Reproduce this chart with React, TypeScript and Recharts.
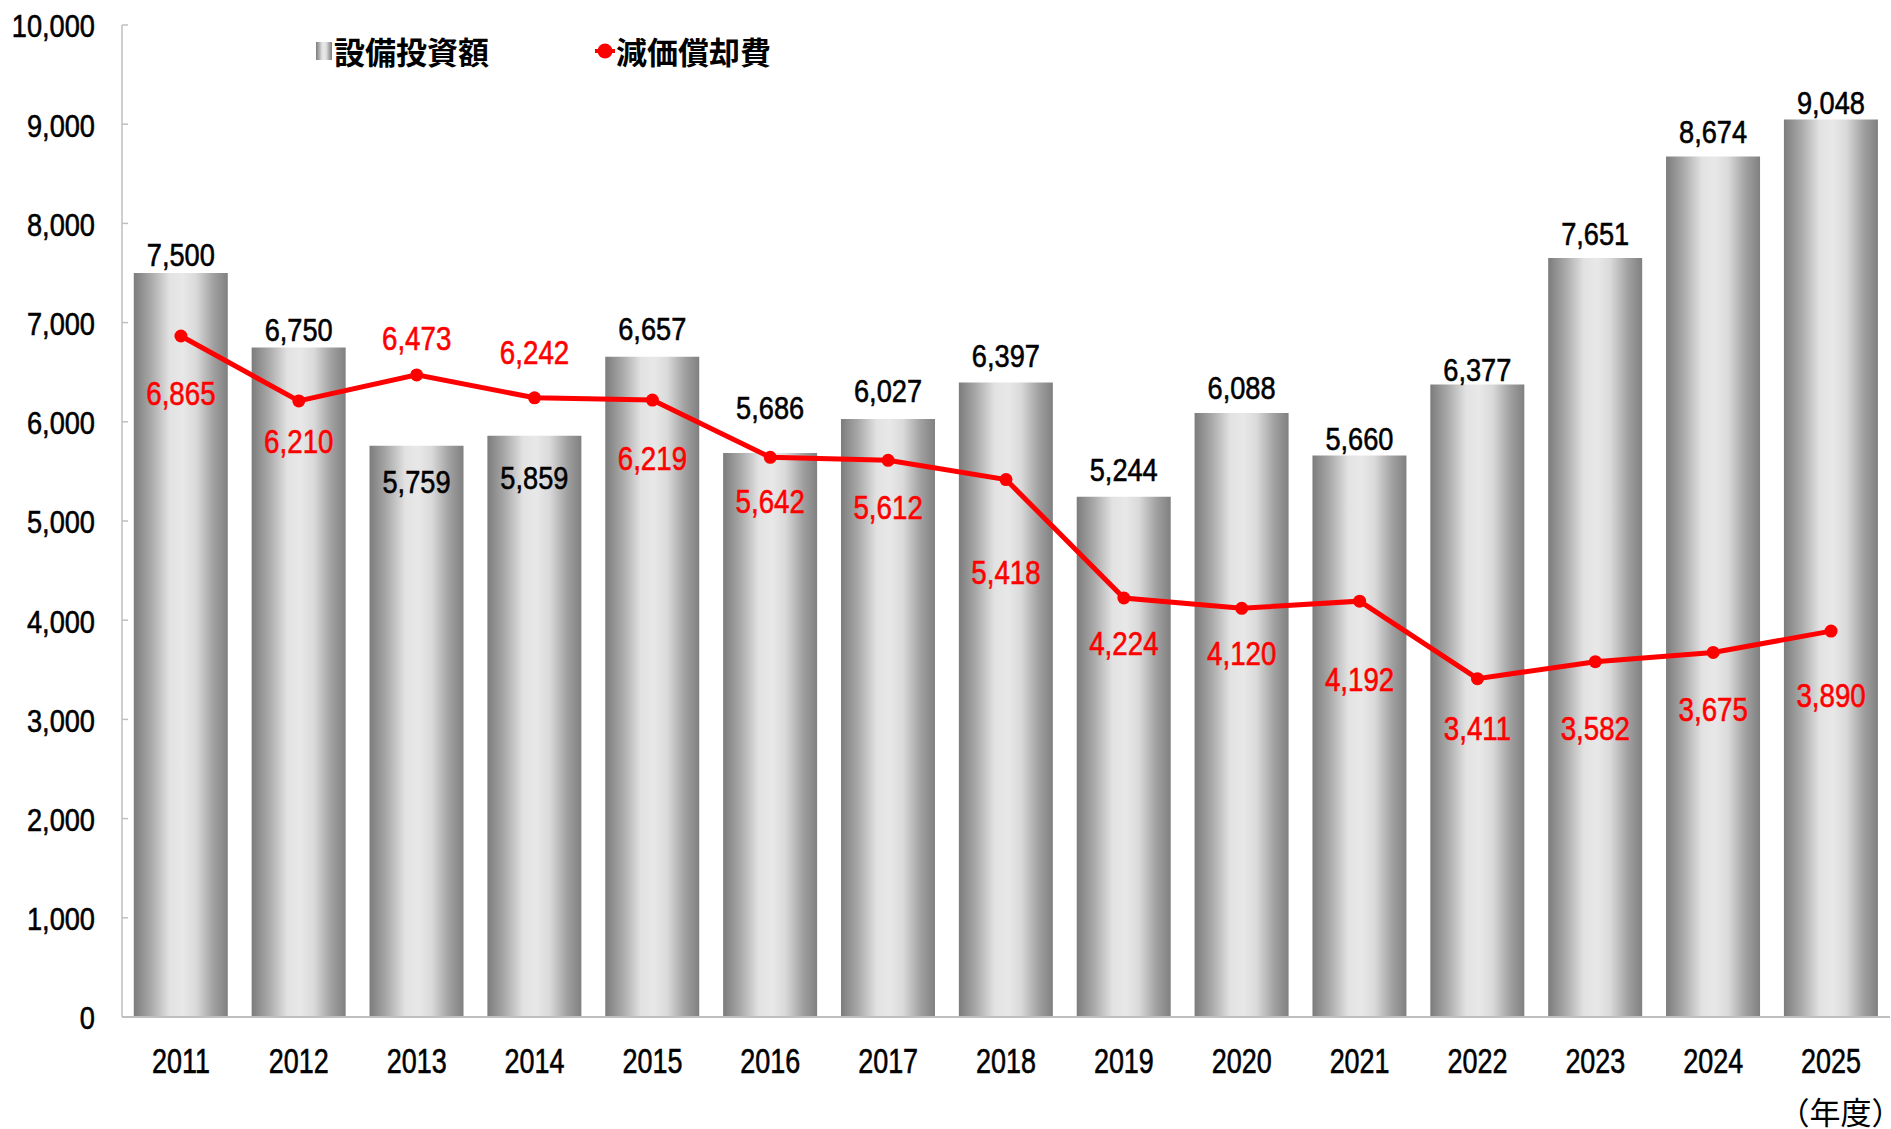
import { ComposedChart, Bar, Line, XAxis, YAxis, LabelList } from "recharts";

const years = [
  "2011", "2012", "2013", "2014", "2015", "2016", "2017", "2018",
  "2019", "2020", "2021", "2022", "2023", "2024", "2025",
];
const capex = [
  7500, 6750, 5759, 5859, 6657, 5686, 6027, 6397, 5244, 6088, 5660, 6377, 7651,
  8674, 9048,
];
const depreciation = [
  6865, 6210, 6473, 6242, 6219, 5642, 5612, 5418, 4224, 4120, 4192, 3411, 3582,
  3675, 3890,
];
const yTicks = [0, 1000, 2000, 3000, 4000, 5000, 6000, 7000, 8000, 9000, 10000];

// hand-placed label offsets (px from bar top / line point), as in the original
const capexLabelDy = [-18, -18, 36, 42, -28, -45, -28, -27, -27, -25, -17, -15, -24, -25, -17];
const depLabelDy = [57, 40, -37, -46, 58, 44, 47, 93, 45, 45, 78, 49, 66, 57, 64];

const NUM_FONT = '"Liberation Sans", Arial, sans-serif';
const JP_FONT = '"Noto Sans CJK JP", "Noto Sans", sans-serif';
const AXIS_GREY = "#bfbfbf";

const fmt = (v: number) => v.toLocaleString("en-US");

const chartData = years.map((year, i) => ({
  year,
  capex: capex[i],
  depreciation: depreciation[i],
}));

// the original uses a condensed gothic face, so squeeze a normal one
function NarrowText({
  x,
  y,
  size,
  sx,
  anchor = "middle",
  fill = "#000",
  children,
}: {
  x: number;
  y: number;
  size: number;
  sx: number;
  anchor?: "start" | "middle" | "end";
  fill?: string;
  children: any;
}) {
  return (
    <text
      transform={`translate(${x},${y}) scale(${sx},1)`}
      x={0}
      y={0}
      textAnchor={anchor}
      dominantBaseline="central"
      fontFamily={NUM_FONT}
      fontSize={size}
      fill={fill}
      stroke={fill}
      strokeWidth={0.6}
    >
      {children}
    </text>
  );
}

const YTick = (props: any) => {
  const { x, y, payload } = props;
  return (
    <g>
      <line x1={x + 26} x2={x + 32} y1={y} y2={y} stroke={AXIS_GREY} strokeWidth={1.5} />
      <NarrowText x={x - 1} y={y + 1} size={32} sx={0.85} anchor="end">
        {fmt(payload.value)}
      </NarrowText>
    </g>
  );
};

const XTick = (props: any) => {
  const { x, y, payload } = props;
  return (
    <NarrowText x={x} y={y + 44} size={35} sx={0.77}>
      {payload.value}
    </NarrowText>
  );
};

const CapexLabel = (props: any) => {
  const vb = props.viewBox ?? props;
  const i = props.index ?? 0;
  return (
    <NarrowText x={vb.x + vb.width / 2} y={vb.y + capexLabelDy[i]} size={32} sx={0.85}>
      {fmt(capex[i])}
    </NarrowText>
  );
};

const DepLabel = (props: any) => {
  const vb = props.viewBox ?? props;
  const i = props.index ?? 0;
  return (
    <NarrowText x={vb.x} y={vb.y + depLabelDy[i]} size={33} sx={0.84} fill="#ff0000">
      {fmt(depreciation[i])}
    </NarrowText>
  );
};

function LegendBox() {
  const text = { lineHeight: "36px", fontFamily: JP_FONT, fontWeight: 700, fontSize: 31, color: "#000" };
  return (
    <>
      <div style={{ position: "absolute", left: 316, top: 33, display: "flex", alignItems: "center" }}>
        <svg width={16} height={18} style={{ marginRight: 2 }}>
          <rect x={0} y={0} width={16} height={18} fill="url(#barGrad)" />
        </svg>
        <span style={text}>設備投資額</span>
      </div>
      <div style={{ position: "absolute", left: 595, top: 33, display: "flex", alignItems: "center" }}>
        <svg width={20} height={18} style={{ marginRight: 1 }}>
          <line x1={0} x2={20} y1={9} y2={9} stroke="#ff0000" strokeWidth={4} />
          <circle cx={10} cy={9} r={7.5} fill="#ff0000" />
        </svg>
        <span style={text}>減価償却費</span>
      </div>
    </>
  );
}

export default function App() {
  return (
    <div style={{ position: "relative", width: 1891, height: 1129, background: "#fff", overflow: "hidden" }}>
      <style>{"body{margin:0}"}</style>
      <ComposedChart
        width={1891}
        height={1129}
        data={chartData}
        margin={{ top: 25, right: 1, left: 0, bottom: 0 }}
        barCategoryGap="10%"
      >
        <defs>
          <linearGradient id="barGrad" x1="0" y1="0" x2="1" y2="0">
            <stop offset="0%" stopColor="#7c7c7c" />
            <stop offset="18%" stopColor="#a8a8a8" />
            <stop offset="38%" stopColor="#e2e2e2" />
            <stop offset="52%" stopColor="#e8e8e8" />
            <stop offset="66%" stopColor="#dadada" />
            <stop offset="85%" stopColor="#a0a0a0" />
            <stop offset="100%" stopColor="#808080" />
          </linearGradient>
        </defs>
        <XAxis
          dataKey="year"
          height={112}
          tickLine={false}
          tickSize={0}
          tickMargin={0}
          interval={0}
          axisLine={{ stroke: AXIS_GREY, strokeWidth: 2 }}
          tick={<XTick />}
        />
        <YAxis
          width={122}
          domain={[0, 10000]}
          ticks={yTicks}
          interval={0}
          tickLine={false}
          tickSize={0}
          tickMargin={26}
          axisLine={{ stroke: AXIS_GREY, strokeWidth: 1.5 }}
          tick={<YTick />}
        />
        <Bar dataKey="capex" name="設備投資額" fill="url(#barGrad)" isAnimationActive={false}>
          <LabelList dataKey="capex" content={<CapexLabel />} />
        </Bar>
        <Line
          dataKey="depreciation"
          name="減価償却費"
          stroke="#ff0000"
          strokeWidth={5}
          dot={{ r: 6.5, fill: "#ff0000", stroke: "#ff0000", strokeWidth: 0 }}
          activeDot={false}
          isAnimationActive={false}
        >
          <LabelList dataKey="depreciation" content={<DepLabel />} />
        </Line>
      </ComposedChart>
      <LegendBox />
      <div
        style={{
          position: "absolute",
          right: 4,
          top: 1093,
          fontFamily: JP_FONT,
          fontSize: 31,
          lineHeight: "36px",
          fontFeatureSettings: '"halt"',
          whiteSpace: "nowrap",
          color: "#000",
        }}
      >
        （年度）
      </div>
    </div>
  );
}
